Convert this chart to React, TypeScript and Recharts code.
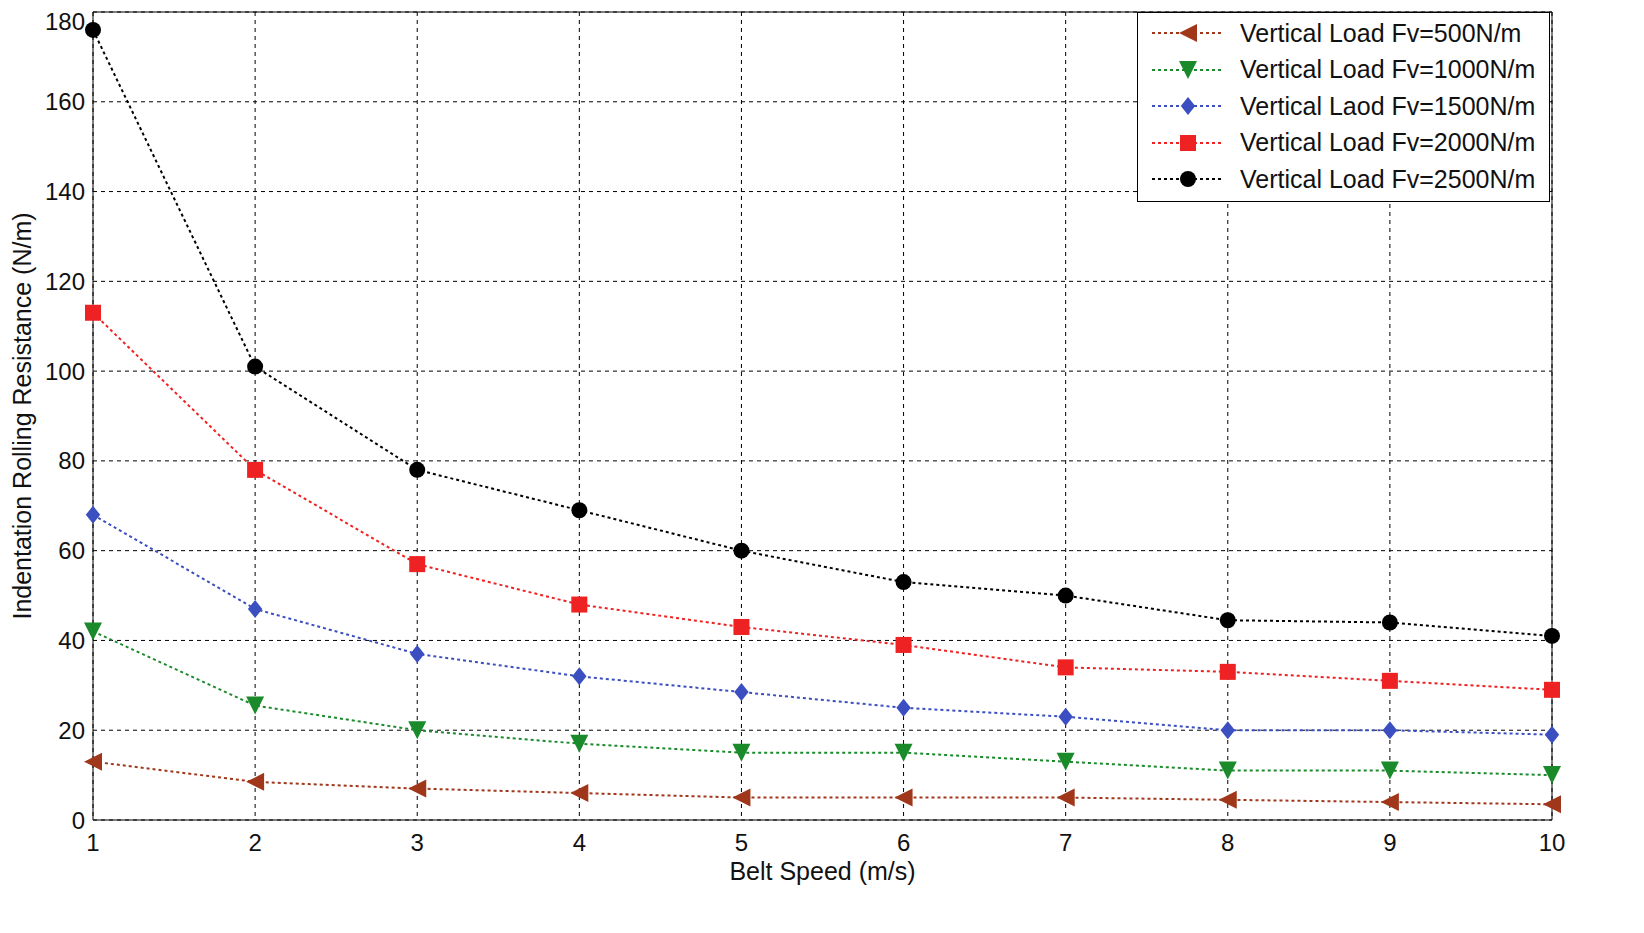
import React from 'react';
import { LineChart, Line, XAxis, YAxis, CartesianGrid, ReferenceLine } from 'recharts';

const speeds = [1, 2, 3, 4, 5, 6, 7, 8, 9, 10];
const load500 = [13, 8.5, 7, 6, 5, 5, 5, 4.5, 4, 3.5];
const load1000 = [42, 25.5, 20, 17, 15, 15, 13, 11, 11, 10];
const load1500 = [68, 47, 37, 32, 28.5, 25, 23, 20, 20, 19];
const load2000 = [113, 78, 57, 48, 43, 39, 34, 33, 31, 29];
const load2500 = [176, 101, 78, 69, 60, 53, 50, 44.5, 44, 41];
const yTicks = [0, 20, 40, 60, 80, 100, 120, 140, 160, 180];

const data = speeds.map((s, i) => ({
  s, a: load500[i], b: load1000[i], c: load1500[i], d: load2000[i], e: load2500[i],
}));

const series = [
  { key: 'a', name: 'Vertical Load Fv=500N/m', color: '#a0361a', shape: 'left' },
  { key: 'b', name: 'Vertical Load Fv=1000N/m', color: '#1a8a2a', shape: 'down' },
  { key: 'c', name: 'Vertical Laod Fv=1500N/m', color: '#3b4fc0', shape: 'diamond' },
  { key: 'd', name: 'Vertical Load Fv=2000N/m', color: '#ee2222', shape: 'square' },
  { key: 'e', name: 'Vertical Load Fv=2500N/m', color: '#000000', shape: 'circle' },
];

const Marker = ({ cx, cy, shape, color }: any) => {
  const r = 9;
  if (shape === 'left') return <polygon points={`${cx - r},${cy} ${cx + r},${cy - r} ${cx + r},${cy + r}`} fill={color} />;
  if (shape === 'down') return <polygon points={`${cx - r},${cy - r} ${cx + r},${cy - r} ${cx},${cy + r}`} fill={color} />;
  if (shape === 'diamond') return <polygon points={`${cx},${cy - r} ${cx + r * 0.8},${cy} ${cx},${cy + r} ${cx - r * 0.8},${cy}`} fill={color} />;
  if (shape === 'square') return <rect x={cx - 8} y={cy - 8} width={16} height={16} fill={color} />;
  return <circle cx={cx} cy={cy} r={8} fill={color} />;
};

const LegendBox = () => (
  <div style={{ position: 'absolute', left: 1129, top: 4, width: 413, height: 190, boxSizing: 'border-box',
    border: '1.5px solid #000', background: '#fff', padding: '2px 10px', fontFamily: 'Liberation Sans, Arial', fontSize: 25 }}>
    {series.map((s) => (
      <div key={s.key} style={{ display: 'flex', alignItems: 'center', height: 36.5 }}>
        <svg width={80} height={24}>
          <line x1={4} y1={12} x2={76} y2={12} stroke={s.color} strokeWidth={2} strokeDasharray="3 3" />
          <Marker cx={40} cy={12} shape={s.shape} color={s.color} />
        </svg>
        <span style={{ marginLeft: 12, color: '#111', whiteSpace: 'nowrap' }}>{s.name}</span>
      </div>
    ))}
  </div>
);

export default function App() {
  const font = { fontFamily: 'Liberation Sans, Arial', fontSize: 24, fill: '#111' };
  return (
    <div style={{ background: '#fff', position: 'relative', width: 1560, height: 890 }}>
      <LineChart width={1560} height={890} data={data} margin={{ top: 4, right: 16, left: 0, bottom: 18 }}>
        <CartesianGrid stroke="#000" strokeDasharray="4 4" strokeWidth={1} />
        <XAxis dataKey="s" type="number" domain={[1, 10]} ticks={speeds} height={60} tick={font}
          stroke="#000" tickLine={false} tickMargin={8}
          label={{ value: 'Belt Speed (m/s)', position: 'insideBottom', offset: 0, style: { ...font, fontSize: 25 } }} />
        <YAxis type="number" domain={[0, 180]} ticks={yTicks} width={85} tick={font} stroke="#000" tickLine={false}
          label={{ value: 'Indentation Rolling Resistance (N/m)', angle: -90, position: 'insideLeft', offset: 0, dx: 14, style: { ...font, fontSize: 25, textAnchor: 'middle' } }} />
        <ReferenceLine y={180} stroke="#000" />
        <ReferenceLine x={10} stroke="#000" />
        {series.map((s) => (
          <Line key={s.key} dataKey={s.key} name={s.name} stroke={s.color} strokeWidth={2} strokeDasharray="3 3"
            isAnimationActive={false}
            dot={(p: any) => <Marker key={p.index} cx={p.cx} cy={p.cy} shape={s.shape} color={s.color} />} />
        ))}
      </LineChart>
      <LegendBox />
    </div>
  );
}
